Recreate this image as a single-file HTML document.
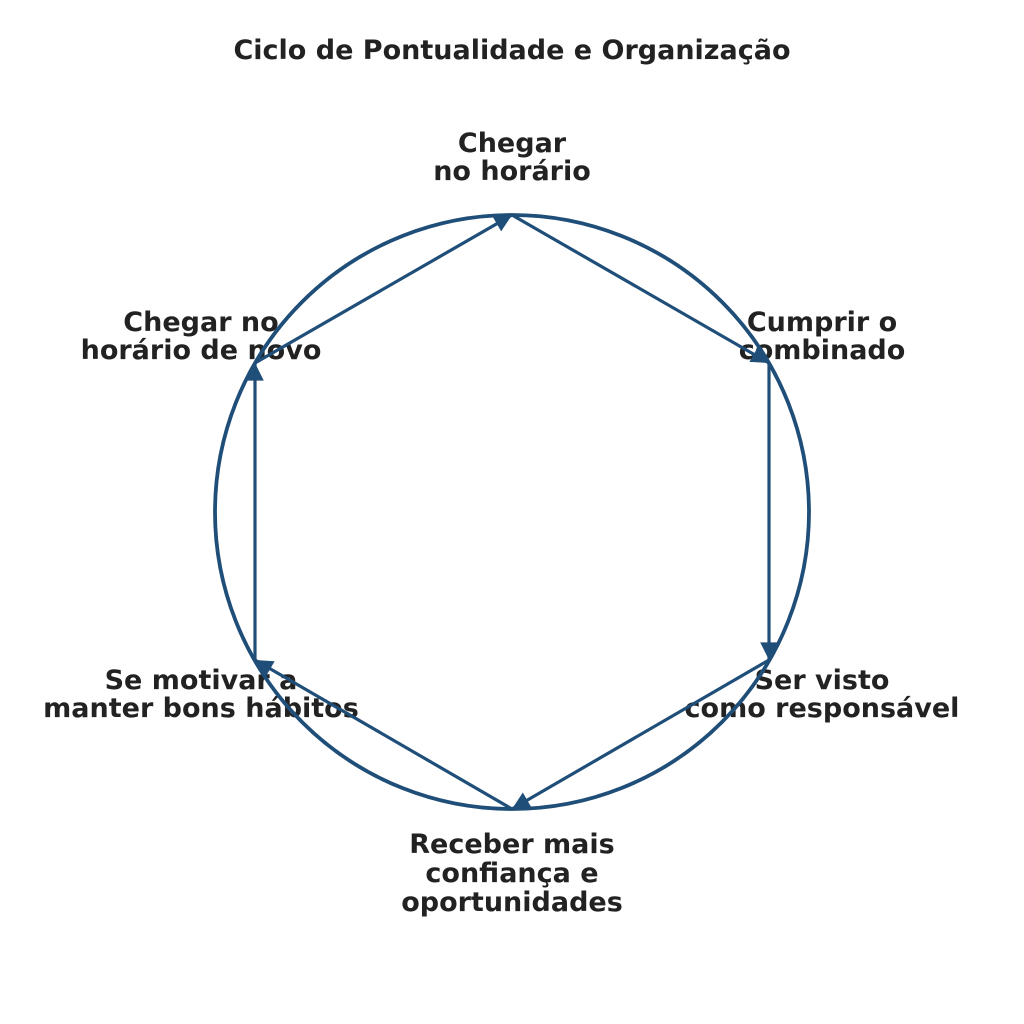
<!DOCTYPE html>
<html><head><style>
html,body{margin:0;padding:0;background:#fff;}
svg{display:block;}
text{font-family:"DejaVu Sans","Liberation Sans",sans-serif;font-weight:bold;fill:#222;}
</style></head><body>
<svg width="1024" height="1024" viewBox="0 0 1024 1024">
<defs>
<marker id="a" viewBox="0 0 10 10" refX="10" refY="5" markerWidth="6" markerHeight="5.5" markerUnits="strokeWidth" orient="auto">
<path d="M0,0 L10,5 L0,10 z" fill="#1f4e79"/>
</marker>
</defs>
<text x="512" y="59" font-size="27" text-anchor="middle">Ciclo de Pontualidade e Organização</text>
<g font-size="27" text-anchor="middle">
<text x="512" y="152">Chegar</text><text x="512" y="180">no horário</text>
<text x="822" y="331">Cumprir o</text><text x="822" y="359">combinado</text>
<text x="822" y="689">Ser visto</text><text x="822" y="717">como responsável</text>
<text x="512" y="853">Receber mais</text><text x="512" y="882">confiança e</text><text x="512" y="911">oportunidades</text>
<text x="201" y="689">Se motivar a</text><text x="201" y="717">manter bons hábitos</text>
<text x="201" y="331">Chegar no</text><text x="201" y="359">horário de novo</text>
</g>
<circle cx="512" cy="512" r="297" fill="none" stroke="#1f4e79" stroke-width="3.8"/>
<g stroke="#1f4e79" stroke-width="3.2" fill="none" marker-end="url(#a)">
<line x1="512" y1="215" x2="769" y2="363"/>
<line x1="769" y1="363" x2="769" y2="660"/>
<line x1="769" y1="660" x2="512" y2="809"/>
<line x1="512" y1="809" x2="255" y2="660"/>
<line x1="255" y1="660" x2="255" y2="363"/>
<line x1="255" y1="363" x2="512" y2="215"/>
</g>
</svg>
</body></html>
